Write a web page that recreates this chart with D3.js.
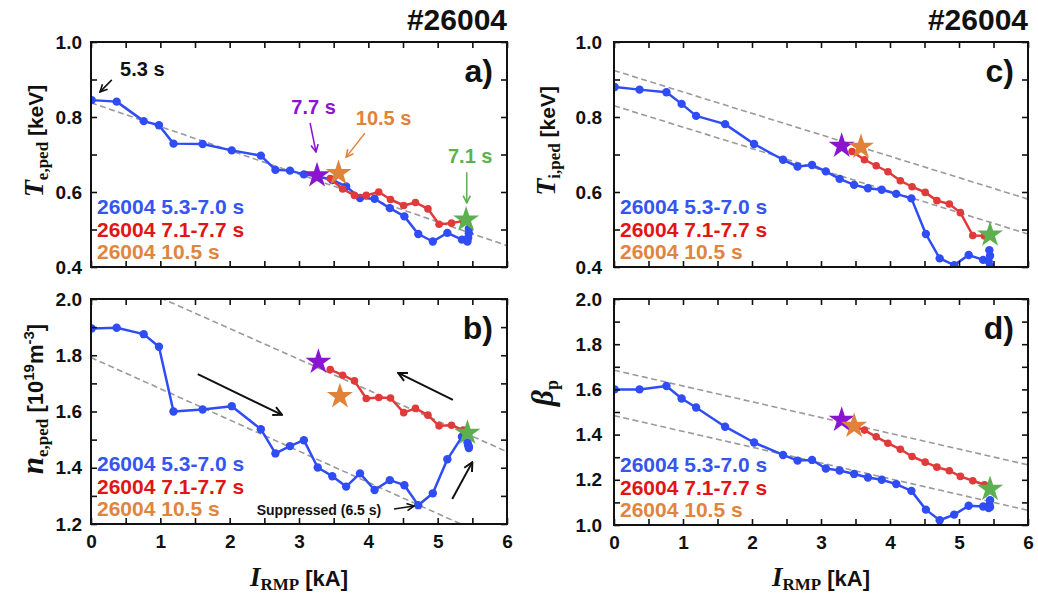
<!DOCTYPE html>
<html>
<head>
<meta charset="utf-8">
<script src="https://cdn.jsdelivr.net/npm/d3@7"></script>
<style>
  body { margin: 0; background: #fff; }
  svg { display: block; }
</style>
</head>
<body>
<svg id="fig" width="1038" height="594"></svg>
<script>
// ---- Shot #26004: pedestal quantities vs RMP coil current ----

// RMP current [kA] of the 5.3-7.0 s ramp (blue) and of the 7.1-7.7 s ramp-down (red)
const irmpBlue = [0.01, 0.37, 0.76, 0.98, 1.19, 1.61, 2.03, 2.45, 2.66, 2.87, 3.07, 3.27, 3.48,
                  3.68, 3.88, 4.09, 4.31, 4.52, 4.72, 4.93, 5.14, 5.35, 5.43, 5.44, 5.45, 5.45];
const irmpRed  = [3.45, 3.63, 3.80, 3.97, 4.15, 4.32, 4.51, 4.68, 4.86, 5.02, 5.20, 5.37];

// a) electron pedestal temperature [keV]
const teBlue = [0.845, 0.841, 0.789, 0.778, 0.729, 0.728, 0.711, 0.697, 0.659, 0.657, 0.647, 0.642, 0.632,
                0.615, 0.584, 0.582, 0.557, 0.535, 0.488, 0.468, 0.491, 0.473, 0.468, 0.478, 0.490, 0.502];
const teRed  = [0.636, 0.608, 0.591, 0.591, 0.600, 0.580, 0.564, 0.572, 0.555, 0.514, 0.517, 0.523];

// b) electron pedestal density [1e19 m^-3]
const neBlue = [1.895, 1.898, 1.875, 1.830, 1.600, 1.607, 1.619, 1.537, 1.451, 1.477, 1.498, 1.401, 1.370,
                1.333, 1.380, 1.321, 1.356, 1.338, 1.267, 1.309, 1.430, 1.510, 1.490, 1.480, 1.475, 1.470];
const neRed  = [1.749, 1.729, 1.709, 1.646, 1.650, 1.648, 1.596, 1.611, 1.587, 1.549, 1.551, 1.534];

// c) ion pedestal temperature [keV]
const tiBlue = [0.880, 0.873, 0.866, 0.835, 0.803, 0.781, 0.728, 0.686, 0.668, 0.672, 0.655, 0.635, 0.619,
                0.610, 0.606, 0.595, 0.583, 0.488, 0.423, 0.405, 0.432, 0.419, 0.415, 0.445, 0.430, 0.402];
const tiRed  = [0.708, 0.686, 0.670, 0.654, 0.630, 0.614, 0.599, 0.577, 0.568, 0.545, 0.484, 0.483];

// d) poloidal beta
const betaBlue = [1.600, 1.600, 1.615, 1.560, 1.520, 1.435, 1.365, 1.310, 1.285, 1.288, 1.250, 1.241, 1.226,
                  1.210, 1.200, 1.181, 1.151, 1.068, 1.021, 1.046, 1.085, 1.082, 1.075, 1.090, 1.110, 1.080];
const betaRed  = [1.440, 1.420, 1.390, 1.362, 1.335, 1.303, 1.278, 1.256, 1.240, 1.215, 1.196, 1.178];

// Highlighted time slices: 7.7 s, 10.5 s, 7.1 s
const starTimes = ["7.7 s", "10.5 s", "7.1 s"];
const starIrmpA = [3.26, 3.57, 5.41], starTe   = [0.644, 0.650, 0.526];
const starIrmpB = [3.28, 3.59, 5.43], starNe   = [1.776, 1.654, 1.524];
const starIrmpC = [3.30, 3.58, 5.45], starTi   = [0.723, 0.720, 0.486];
const starIrmpD = [3.30, 3.48, 5.45], starBeta = [1.465, 1.438, 1.159];

// Dashed trend lines, given by their values at I_RMP = 0 and 6 kA
const fitIrmp = [0, 6];
const fitTe   = [[0.838, 0.457]];
const fitNe   = [[2.114, 1.457], [1.792, 1.126]];
const fitTi   = [[0.924, 0.581], [0.830, 0.488]];
const fitBeta = [[1.685, 1.266], [1.484, 1.065]];

// Tick values
const xTicks = [0, 0.5, 1, 1.5, 2, 2.5, 3, 3.5, 4, 4.5, 5, 5.5, 6];
const xTickLabels = ["0", "", "1", "", "2", "", "3", "", "4", "", "5", "", "6"];
const legendLabels = ["26004 5.3-7.0 s", "26004 7.1-7.7 s", "26004 10.5 s"];

// ---- styling ----
const SANS = "'Liberation Sans', Arial, sans-serif";
const SERIF = "'Liberation Serif', 'Times New Roman', serif";
const C = {
  blue: "#2f4cf5", red: "#e03a3a", orange: "#e0823a", purple: "#8b14d0", green: "#5cb050",
  legBlue: "#3555f0", legRed: "#e21515", legOrange: "#e0853d", grey: "#9a9a9a"
};
const starColors = [C.purple, C.orange, C.green];

const svg = d3.select("#fig");
const defs = svg.append("defs");

function arrowMarker(id, color, size) {
  defs.append("marker")
    .attr("id", id)
    .attr("viewBox", "0 0 10 10")
    .attr("refX", 9).attr("refY", 5)
    .attr("markerWidth", size).attr("markerHeight", size)
    .attr("markerUnits", "userSpaceOnUse")
    .attr("orient", "auto")
    .append("path")
    .attr("d", "M1,1 L9,5 L1,9")
    .attr("fill", "none")
    .attr("stroke", color)
    .attr("stroke-width", 1.8)
    .attr("stroke-linejoin", "miter");
}
arrowMarker("arr-black", "#111", 9);
arrowMarker("arr-black-big", "#111", 11);
arrowMarker("arr-purple", C.purple, 9);
arrowMarker("arr-orange", C.orange, 9);
arrowMarker("arr-green", C.green, 9);

const panels = [
  { id: "a", box: [91, 507, 42, 267], yDomain: [0.4, 1.0], blue: teBlue, red: teRed,
    starX: starIrmpA, starY: starTe, fits: fitTe, labelPad: 9, xLabels: false },
  { id: "b", box: [91, 507, 299, 524], yDomain: [1.2, 2.0], blue: neBlue, red: neRed,
    starX: starIrmpB, starY: starNe, fits: fitNe, labelPad: 9, xLabels: true },
  { id: "c", box: [614, 1028, 42, 267], yDomain: [0.4, 1.0], blue: tiBlue, red: tiRed,
    starX: starIrmpC, starY: starTi, fits: fitTi, labelPad: 12, xLabels: false },
  { id: "d", box: [614, 1028, 299, 525], yDomain: [1.0, 2.0], blue: betaBlue, red: betaRed,
    starX: starIrmpD, starY: starBeta, fits: fitBeta, labelPad: 12, xLabels: true }
];

panels.forEach(p => {
  const [x0, x1, y0, y1] = p.box;
  const x = d3.scaleLinear().domain([0, 6]).range([x0, x1]);
  const y = d3.scaleLinear().domain(p.yDomain).range([y1, y0]);
  p.x = x; p.y = y;

  const g = svg.append("g").attr("class", "panel-" + p.id);

  defs.append("clipPath").attr("id", "clip-" + p.id)
    .append("rect").attr("x", x0).attr("y", y0).attr("width", x1 - x0).attr("height", y1 - y0);

  const plot = g.append("g").attr("clip-path", `url(#clip-${p.id})`);

  // dashed trend lines
  p.fits.forEach(f => {
    plot.append("line")
      .attr("x1", x(fitIrmp[0])).attr("y1", y(f[0]))
      .attr("x2", x(fitIrmp[1])).attr("y2", y(f[1]))
      .attr("stroke", C.grey).attr("stroke-width", 1.6)
      .attr("stroke-dasharray", "6,3.5");
  });

  const line = d3.line().x(d => x(d[0])).y(d => y(d[1]));
  const blueData = irmpBlue.map((v, i) => [v, p.blue[i]]);
  const redData = irmpRed.map((v, i) => [v, p.red[i]]);

  plot.append("path").datum(blueData).attr("d", line)
    .attr("fill", "none").attr("stroke", C.blue).attr("stroke-width", 2.5).attr("stroke-linejoin", "round");
  plot.selectAll("circle.blue").data(blueData).join("circle").attr("class", "blue")
    .attr("cx", d => x(d[0])).attr("cy", d => y(d[1])).attr("r", 4.2).attr("fill", C.blue);

  plot.append("path").datum(redData).attr("d", line)
    .attr("fill", "none").attr("stroke", C.red).attr("stroke-width", 2.5).attr("stroke-linejoin", "round");
  plot.selectAll("circle.red").data(redData).join("circle").attr("class", "red")
    .attr("cx", d => x(d[0])).attr("cy", d => y(d[1])).attr("r", 3.8).attr("fill", C.red);

  // stars for the highlighted time slices
  const star = d3.symbol(d3.symbolStar, 210);
  g.selectAll("path.star").data(p.starX.map((v, i) => [v, p.starY[i], starColors[i]]))
    .join("path").attr("class", "star")
    .attr("d", star)
    .attr("transform", d => `translate(${x(d[0])},${y(d[1])})`)
    .attr("fill", d => d[2]);

  // axes with inward ticks on all four sides
  const nY = Math.round((p.yDomain[1] - p.yDomain[0]) / 0.1);
  const yTicks = d3.range(nY + 1).map(i => +(p.yDomain[0] + i * 0.1).toFixed(2));
  const isMajor = v => Math.abs(Math.round(v * 5) - v * 5) < 1e-6;

  const axBottom = d3.axisBottom(x).tickValues(xTicks).tickSize(-6).tickPadding(11)
    .tickFormat((d, i) => p.xLabels ? xTickLabels[i] : "");
  const axTop = d3.axisTop(x).tickValues(xTicks).tickSize(-6).tickFormat("");
  const axLeft = d3.axisLeft(y).tickValues(yTicks).tickSize(-6).tickPadding(p.labelPad)
    .tickFormat(v => isMajor(v) ? d3.format(".1f")(v) : "");
  const axRight = d3.axisRight(y).tickValues(yTicks).tickSize(-6).tickFormat("");

  const axes = [
    [axBottom, `translate(0,${y1})`], [axTop, `translate(0,${y0})`],
    [axLeft, `translate(${x0},0)`], [axRight, `translate(${x1},0)`]
  ];
  axes.forEach(([ax, tr]) => {
    const ga = g.append("g").attr("transform", tr).call(ax);
    ga.select(".domain").remove();
    ga.selectAll(".tick line").attr("stroke", "#111").attr("stroke-width", 1.6);
    ga.selectAll(".tick text").attr("fill", "#111")
      .style("font-family", SANS).style("font-weight", "bold").style("font-size", "19px");
  });

  // frame
  g.append("rect").attr("x", x0).attr("y", y0).attr("width", x1 - x0).attr("height", y1 - y0)
    .attr("fill", "none").attr("stroke", "#111").attr("stroke-width", 2);

  // panel letter
  g.append("text").attr("x", x1 - 14).attr("y", y0 + 40).attr("text-anchor", "end")
    .style("font-family", SANS).style("font-weight", "bold").style("font-size", "32px")
    .attr("fill", "#111").text(p.id + ")");

  // legend
  const legColors = [C.legBlue, C.legRed, C.legOrange];
  legendLabels.forEach((t, i) => {
    g.append("text").attr("x", x0 + 6).attr("y", y1 - 53 + i * 22.5)
      .style("font-family", SANS).style("font-weight", "bold").style("font-size", "21px")
      .attr("fill", legColors[i]).text(t);
  });

  // x axis title under the bottom panels
  if (p.xLabels) {
    const t = g.append("text").attr("x", (x0 + x1) / 2).attr("y", 586).attr("text-anchor", "middle").attr("fill", "#111");
    t.append("tspan").style("font-family", SERIF).style("font-weight", "bold").style("font-style", "italic")
      .style("font-size", "27px").text("I");
    t.append("tspan").style("font-family", SERIF).style("font-weight", "bold").style("font-size", "17px")
      .attr("dy", 4).text("RMP");
    t.append("tspan").style("font-family", SANS).style("font-weight", "bold").style("font-size", "22px")
      .attr("dy", -4).text(" [kA]");
  }
});

// shot number titles
[panels[0], panels[2]].forEach(p => {
  svg.append("text").attr("x", p.box[1]).attr("y", 30).attr("text-anchor", "end")
    .style("font-family", SANS).style("font-weight", "bold").style("font-size", "30px")
    .attr("fill", "#111").text("#26004");
});

// y axis titles
function yTitle(cx, cy, parts) {
  const t = svg.append("text").attr("transform", `translate(${cx},${cy}) rotate(-90)`)
    .attr("text-anchor", "middle").attr("fill", "#111");
  parts.forEach(pt => {
    const s = t.append("tspan").text(pt.text)
      .style("font-family", pt.serif ? SERIF : SANS).style("font-weight", "bold")
      .style("font-size", pt.size + "px");
    if (pt.italic) s.style("font-style", "italic");
    if (pt.dy) s.attr("dy", pt.dy);
  });
}
yTitle(43, 141, [
  { text: "T", serif: true, italic: true, size: 28 },
  { text: "e,ped", serif: true, size: 17, dy: 5 },
  { text: " [keV]", size: 21, dy: -5 }
]);
yTitle(43, 399, [
  { text: "n", serif: true, italic: true, size: 31 },
  { text: "e,ped", serif: true, size: 17, dy: 5 },
  { text: " [10", size: 22, dy: -5 },
  { text: "19", size: 15, dy: -9 },
  { text: "m", size: 22, dy: 9 },
  { text: "-3", size: 15, dy: -9 },
  { text: "]", size: 22, dy: 9 }
]);
yTitle(555, 141, [
  { text: "T", serif: true, italic: true, size: 28 },
  { text: "i,ped", serif: true, size: 17, dy: 5 },
  { text: " [keV]", size: 21, dy: -5 }
]);
yTitle(553, 393, [
  { text: "β", serif: true, italic: true, size: 31 },
  { text: "p", serif: true, size: 18, dy: 5 }
]);

// ---- annotations (positions in data units of their panel) ----
const pa = panels[0], pb = panels[1];

function note(p, I, v, text, color, size, anchor) {
  svg.append("text").attr("x", p.x(I)).attr("y", p.y(v)).attr("text-anchor", anchor)
    .style("font-family", SANS).style("font-weight", "bold").style("font-size", size + "px")
    .attr("fill", color).text(text);
}
function arrow(p, I1, v1, I2, v2, color, marker, width) {
  svg.append("line")
    .attr("x1", p.x(I1)).attr("y1", p.y(v1)).attr("x2", p.x(I2)).attr("y2", p.y(v2))
    .attr("stroke", color).attr("stroke-width", width)
    .attr("marker-end", `url(#${marker})`);
}

note(pa, 0.42, 0.909, "5.3 s", "#111", 20, "start");
arrow(pa, 0.30, 0.899, 0.13, 0.867, "#111", "arr-black", 1.5);

note(pa, 3.21, 0.808, starTimes[0], C.purple, 20, "middle");
arrow(pa, 3.16, 0.784, 3.245, 0.707, C.purple, "arr-purple", 1.5);

note(pa, 4.22, 0.779, starTimes[1], C.orange, 20, "middle");
arrow(pa, 3.95, 0.757, 3.68, 0.693, C.orange, "arr-orange", 1.5);

note(pa, 5.47, 0.677, starTimes[2], C.green, 20, "middle");
arrow(pa, 5.42, 0.653, 5.42, 0.571, C.green, "arr-green", 1.5);

// direction of the hysteresis loop in panel b
arrow(pb, 1.54, 1.733, 2.755, 1.588, "#111", "arr-black-big", 2);
arrow(pb, 5.22, 1.641, 4.43, 1.737, "#111", "arr-black-big", 2);
arrow(pb, 5.21, 1.289, 5.50, 1.420, "#111", "arr-black-big", 2);

note(pb, 2.39, 1.232, "Suppressed (6.5 s)", "#111", 14, "start");
arrow(pb, 4.37, 1.253, 4.66, 1.264, "#111", "arr-black", 1.5);
</script>
</body>
</html>
